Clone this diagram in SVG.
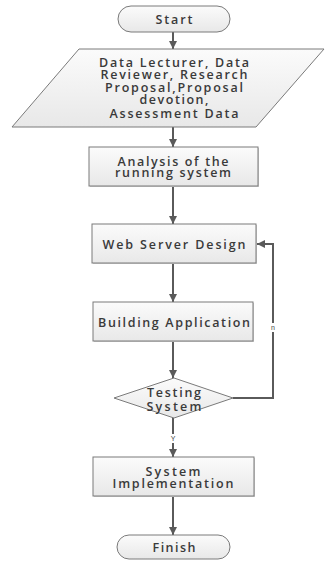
<svg xmlns="http://www.w3.org/2000/svg" width="325" height="561" viewBox="0 0 325 561">
<style>
.shape{fill:url(#g);stroke:#7a7a7a;stroke-width:1}
.shadow{fill:#d0d0d0}
.t{font-family:"Open Sans","Liberation Sans",sans-serif;font-weight:600;font-size:12.5px;fill:#3a3a3a;text-anchor:middle}
.lbl{font-family:"Liberation Sans",sans-serif;font-size:7px;fill:#444;text-anchor:middle}
.c{fill:none;stroke:#5a5a5a;stroke-width:2}
</style>
<defs>
<linearGradient id="g" x1="0" y1="0" x2="0" y2="1">
<stop offset="0" stop-color="#fbfbfb"/>
<stop offset="1" stop-color="#e8e8e8"/>
</linearGradient>
<marker id="a" markerUnits="userSpaceOnUse" markerWidth="9" markerHeight="9" refX="8" refY="4" orient="auto">
<path d="M0,0 L8,4 L0,8 z" fill="#5a5a5a"/>
</marker>
</defs>
<g id="connectors">
<line class="c" x1="173" y1="32" x2="173" y2="49" marker-end="url(#a)"/>
<line class="c" x1="173" y1="127" x2="173" y2="147" marker-end="url(#a)"/>
<line class="c" x1="173" y1="186" x2="173" y2="224" marker-end="url(#a)"/>
<line class="c" x1="173" y1="263" x2="173" y2="302" marker-end="url(#a)"/>
<line class="c" x1="173" y1="341" x2="173" y2="378" marker-end="url(#a)"/>
<line class="c" x1="173" y1="418" x2="173" y2="457" marker-end="url(#a)"/>
<line class="c" x1="173" y1="496" x2="173" y2="535" marker-end="url(#a)"/>
<path class="c" d="M233,398 H273 V244 H257" marker-end="url(#a)"/>
<rect x="270" y="323" width="6" height="9" fill="#fff"/>
<text class="lbl" x="273" y="330">n</text>
<rect x="170" y="434" width="6" height="9" fill="#fff"/>
<text class="lbl" x="173" y="441">Y</text>
</g>
<g id="start">
<rect x="118" y="6" width="112" height="26" rx="13" class="shape"/>
<text class="t" x="174" y="23.5" textLength="37" lengthAdjust="spacing">Start</text>
</g>
<g id="input">
<polygon points="79,49 324,49 256,127 12,127" class="shape"/>
<text class="t" x="174" y="66.5" textLength="150" lengthAdjust="spacing">Data Lecturer, Data</text>
<text class="t" x="174" y="78.5" textLength="147" lengthAdjust="spacing">Reviewer, Research</text>
<text class="t" x="174" y="91.5" textLength="138" lengthAdjust="spacing">Proposal,Proposal</text>
<text class="t" x="174" y="103.5" textLength="69" lengthAdjust="spacing">devotion,</text>
<text class="t" x="174" y="117.5" textLength="129" lengthAdjust="spacing">Assessment Data</text>
</g>
<g id="analysis">
<rect x="90" y="148" width="169" height="39" class="shadow"/>
<rect x="89" y="147" width="169" height="39" class="shape"/>
<text class="t" x="173" y="165.5" textLength="111" lengthAdjust="spacing">Analysis of the</text>
<text class="t" x="173" y="176.5" textLength="116" lengthAdjust="spacing">running system</text>
</g>
<g id="webserver">
<rect x="93" y="225" width="164" height="39" class="shadow"/>
<rect x="92" y="224" width="164" height="39" class="shape"/>
<text class="t" x="174" y="248.5" textLength="143" lengthAdjust="spacing">Web Server Design</text>
</g>
<g id="building">
<rect x="94" y="303" width="160" height="39" class="shadow"/>
<rect x="93" y="302" width="160" height="39" class="shape"/>
<text class="t" x="174" y="326.5" textLength="152" lengthAdjust="spacing">Building Application</text>
</g>
<g id="testing">
<polygon points="174,378 233,398 174,418 114,398" class="shape"/>
<text class="t" x="174" y="396.5" textLength="54" lengthAdjust="spacing">Testing</text>
<text class="t" x="174" y="410.5" textLength="55" lengthAdjust="spacing">System</text>
</g>
<g id="implementation">
<rect x="94" y="458" width="161" height="39" class="shadow"/>
<rect x="93" y="457" width="161" height="39" class="shape"/>
<text class="t" x="173" y="475.5" textLength="55" lengthAdjust="spacing">System</text>
<text class="t" x="173" y="487.5" textLength="121" lengthAdjust="spacing">Implementation</text>
</g>
<g id="finish">
<rect x="117" y="535" width="113" height="24" rx="12" class="shape"/>
<text class="t" x="174" y="551.5" textLength="43" lengthAdjust="spacing">Finish</text>
</g>
</svg>
